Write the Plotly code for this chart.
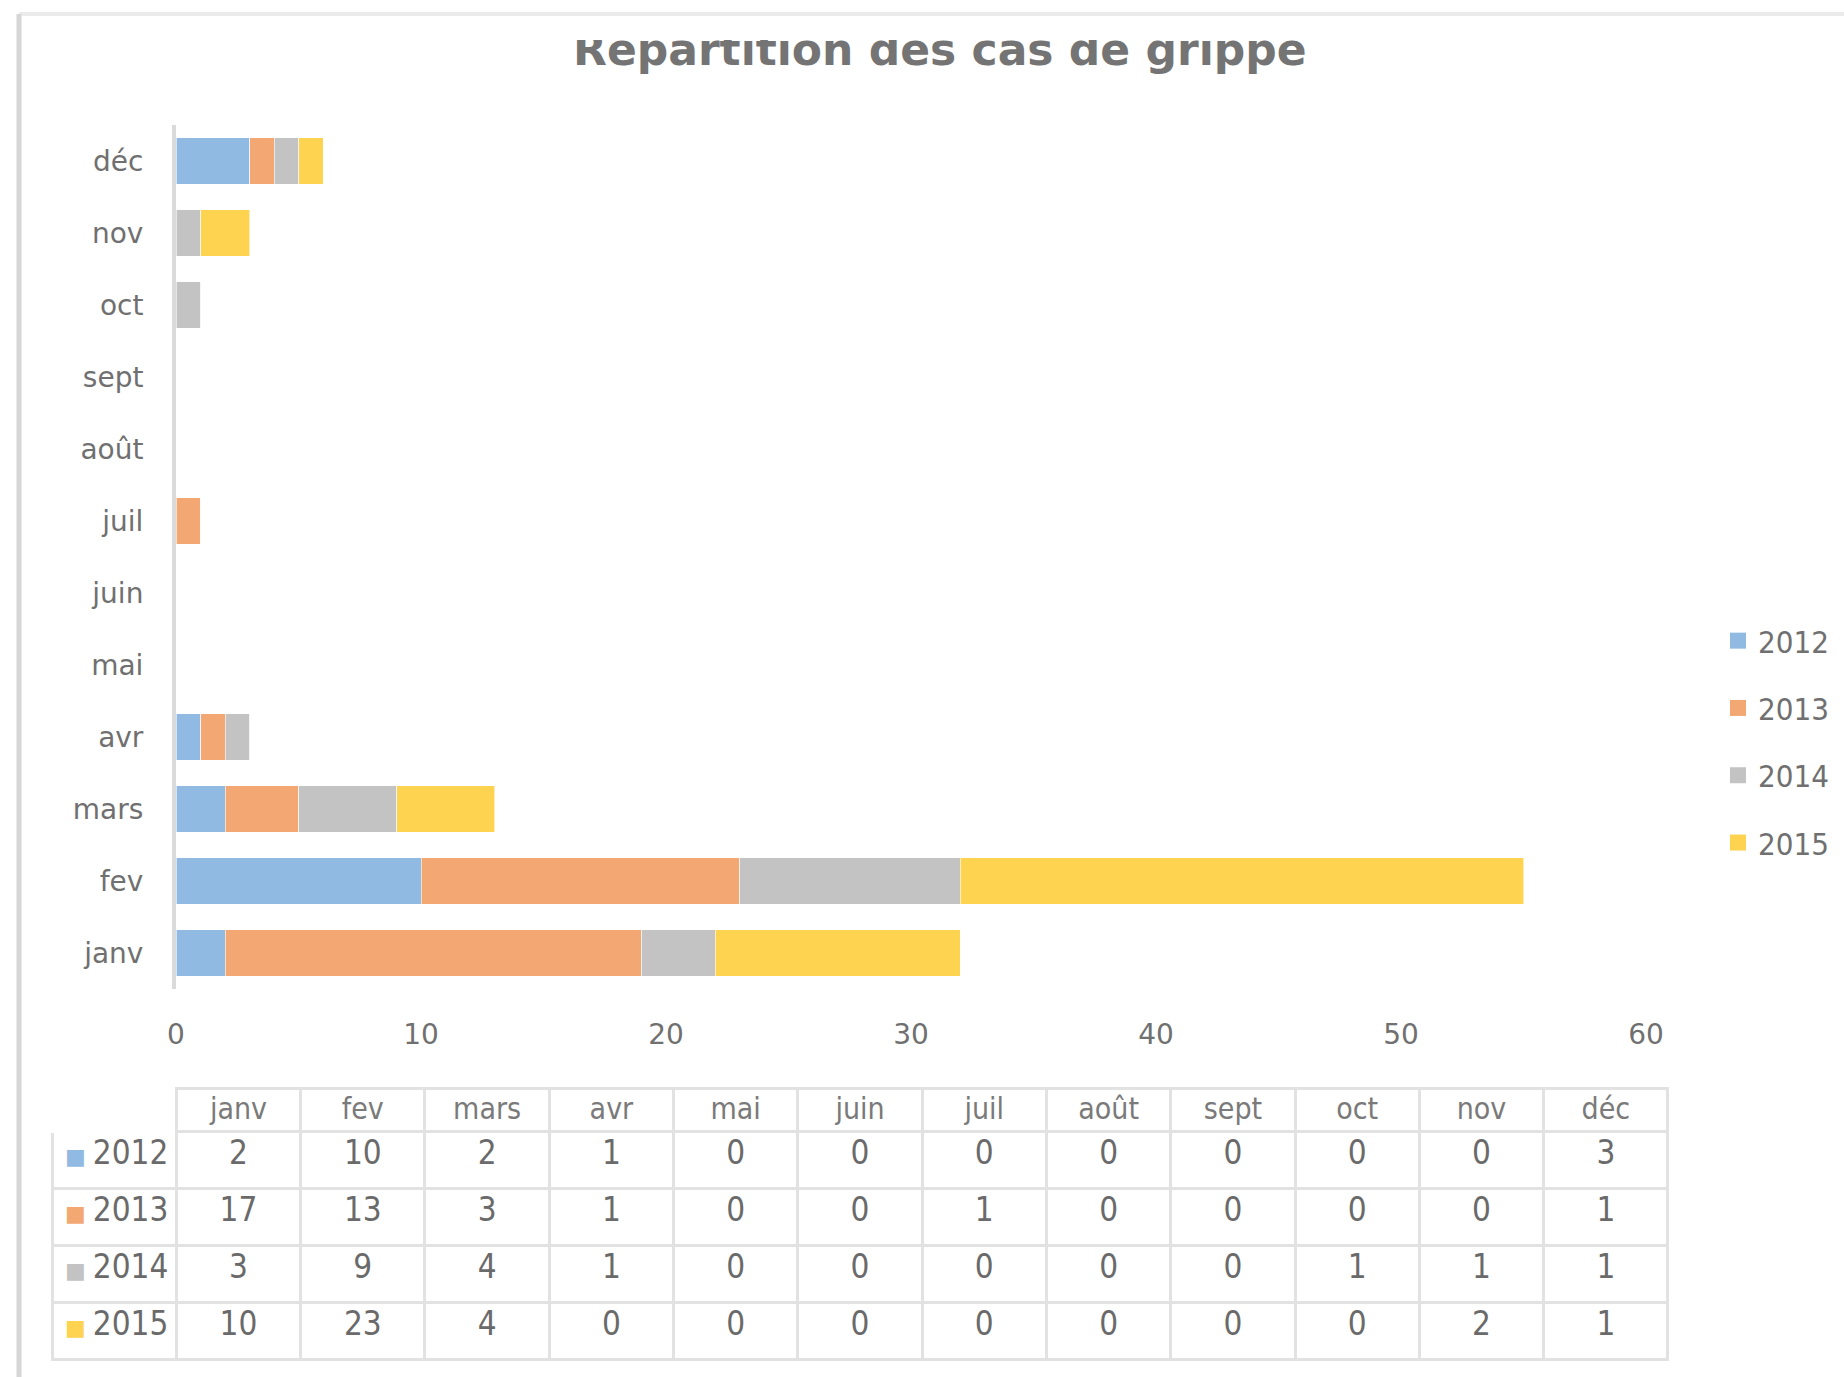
import plotly.graph_objects as go

months = ["janv", "fev", "mars", "avr", "mai", "juin", "juil", "août", "sept", "oct", "nov", "déc"]
years = ["2012", "2013", "2014", "2015"]
cases_2012 = [2, 10, 2, 1, 0, 0, 0, 0, 0, 0, 0, 3]
cases_2013 = [17, 13, 3, 1, 0, 0, 1, 0, 0, 0, 0, 1]
cases_2014 = [3, 9, 4, 1, 0, 0, 0, 0, 0, 1, 1, 1]
cases_2015 = [10, 23, 4, 0, 0, 0, 0, 0, 0, 0, 2, 1]
x_ticks = [0, 10, 20, 30, 40, 50, 60]
title_text = "Repartition des cas de grippe"

series = [cases_2012, cases_2013, cases_2014, cases_2015]
colors = ["#90BAE2", "#F3A874", "#C3C3C3", "#FED34F"]

W, H = 1844, 1377
AXIS_FONT = dict(family="DejaVu Sans, sans-serif", size=28, color="#707070")
NARROW = "Liberation Sans Narrow, DejaVu Sans Condensed, sans-serif"

fig = go.Figure()
for yr, vals, col in zip(years, series, colors):
    fig.add_trace(go.Bar(
        y=months, x=vals, name=yr, orientation="h",
        marker=dict(color=col, line=dict(color="rgba(255,255,255,0.6)", width=1)),
        legendgroup=yr, showlegend=False,
    ))
# legend entries (square swatches)
for yr, col in zip(years, colors):
    fig.add_trace(go.Scatter(
        x=[None], y=[None], mode="markers", name=yr, legendgroup=yr,
        marker=dict(symbol="square", size=16, color=col),
    ))

# data table under the chart
TABLE_TOP, HEADER_H, ROW_H = 1088, 43, 57
cols = [[f"{y}" for y in years]] + [[str(s[i]) for s in series] for i in range(len(months))]
line_col = "#E2E2E2"
fig.add_trace(go.Table(
    domain=dict(x=[52 / W, 1668 / W], y=[0.0, 1 - TABLE_TOP / H]),
    columnwidth=[124] * 13,
    header=dict(values=[""] + months, height=HEADER_H, align="center",
                fill=dict(color="white"),
                line=dict(color=["white"] + [line_col] * 12, width=3),
                font=dict(family=NARROW, size=30, color="#7a7a7a")),
    cells=dict(values=cols, height=ROW_H, align=["right"] + ["center"] * 12,
               fill=dict(color="white"),
               line=dict(color=line_col, width=3),
               font=dict(family=NARROW, size=33, color="#6a6a6a")),
))

# coloured swatches in the table's first column
swatches = []
for i, col in enumerate(colors):
    yc = TABLE_TOP + HEADER_H + ROW_H * i + 25
    swatches.append(dict(text="■", xref="paper", yref="paper", x=75 / W, y=1 - yc / H,
                         xanchor="center", yanchor="middle", showarrow=False,
                         font=dict(family="DejaVu Sans, sans-serif", size=22, color=col)))

fig.update_layout(
    width=W, height=H,
    margin=dict(l=0, r=0, t=0, b=0, autoexpand=False),
    paper_bgcolor="white", plot_bgcolor="white",
    barmode="stack", bargap=0.36,
    showlegend=True,
    legend=dict(x=1718 / W, xanchor="left", y=1 - 742 / H, yanchor="middle",
                traceorder="grouped", tracegroupgap=24,
                font=dict(family=NARROW, size=31, color="#707070"),
                bgcolor="rgba(0,0,0,0)"),
    xaxis=dict(domain=[176 / W, 1646 / W], range=[0, 60], tickvals=x_ticks,
               showgrid=False, zeroline=False, showline=False, automargin=False,
               tickfont=AXIS_FONT, ticklabelstandoff=26, fixedrange=True),
    yaxis=dict(domain=[1 - 989 / H, 1 - 125 / H], categoryorder="array",
               categoryarray=months, showgrid=False, zeroline=False, automargin=False,
               showline=True, linecolor="#DADADA", linewidth=4,
               tickfont=AXIS_FONT, ticklabelstandoff=23, fixedrange=True),
    shapes=[
        dict(type="line", xref="paper", yref="paper", x0=19 / W, x1=1, y0=1 - 14 / H, y1=1 - 14 / H,
             line=dict(color="#EBEBEB", width=4)),
        dict(type="line", xref="paper", yref="paper", x0=19 / W, x1=19 / W, y0=0, y1=1 - 14 / H,
             line=dict(color="#D6D6D6", width=5)),
    ],
    annotations=[
        dict(text=title_text, xref="paper", yref="paper", x=940 / W, y=1 - 77 / H,
             xanchor="center", yanchor="bottom", showarrow=False,
             font=dict(family="DejaVu Sans, sans-serif", size=44, color="#747474", weight="bold")),
        dict(text=" ", xref="paper", yref="paper", x=940 / W, y=1 - 18 / H,
             xanchor="center", yanchor="top", showarrow=False, width=840, height=22,
             bgcolor="white", borderpad=0, borderwidth=0),
    ] + swatches,
)

fig.write_html("out.html")
